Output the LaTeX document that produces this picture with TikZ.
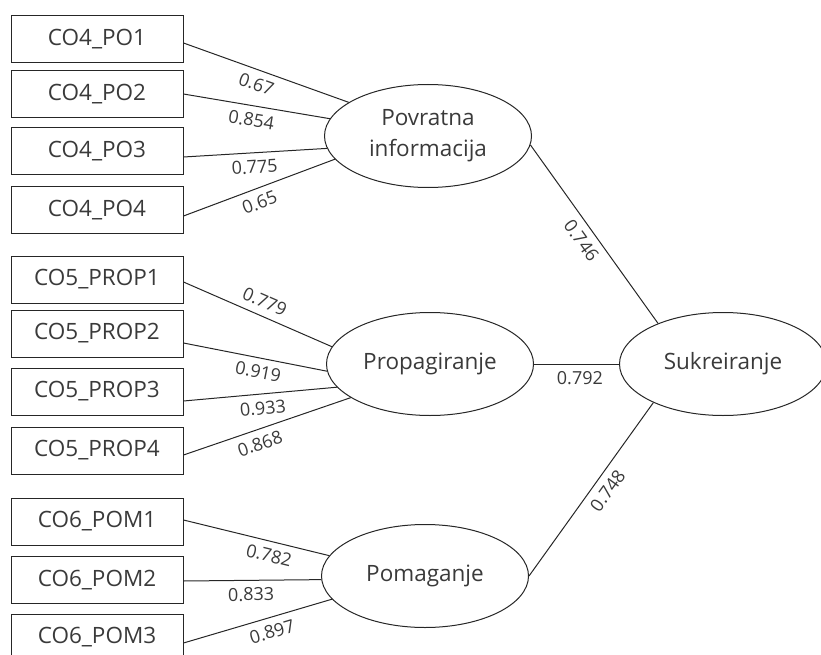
\documentclass[tikz,border=0pt]{standalone}
\usepackage{fontspec}
\setmainfont{Open Sans}
\usetikzlibrary{shapes.geometric,calc}
\definecolor{txt}{HTML}{3A3A3A}
\definecolor{ln}{HTML}{262626}
\begin{document}
\begin{tikzpicture}[x=1pt,y=-1pt,
  ind/.style={draw=ln, line width=1pt, minimum width=172pt, minimum height=47pt, inner sep=0pt, text=txt, font=\fontsize{22.5}{27}\selectfont},
  lat/.style={ellipse, draw=ln, line width=1pt, minimum width=207pt, minimum height=103pt, inner sep=0pt, text=txt, align=center, font=\fontsize{22.5}{31}\selectfont},
  conn/.style={draw=ln, line width=1pt},
  lbl/.style={sloped, text=txt, inner sep=7pt, font=\fontsize{18}{18}\selectfont}
]
\useasboundingbox (0,0) rectangle (821,655);

% indicators
\node[ind] (po1) at (97,39.5) {CO4\_PO1};
\node[ind] (po2) at (97,94.5) {CO4\_PO2};
\node[ind] (po3) at (97,151.5) {CO4\_PO3};
\node[ind] (po4) at (97,210) {CO4\_PO4};
\node[ind] (pr1) at (97,279.5) {CO5\_PROP1};
\node[ind] (pr2) at (97,333.5) {CO5\_PROP2};
\node[ind] (pr3) at (97,391.5) {CO5\_PROP3};
\node[ind] (pr4) at (97,450.5) {CO5\_PROP4};
\node[ind] (pm1) at (97,521.5) {CO6\_POM1};
\node[ind] (pm2) at (97,580) {CO6\_POM2};
\node[ind] (pm3) at (97,637.5) {CO6\_POM3};

% latent variables
\node[lat] (pov) at (428,136) {Povratna\\informacija};
\node[lat] (prop) at (430,364) {Propagiranje};
\node[lat] (pom) at (425,576) {Pomaganje};
\node[lat] (suk) at (723,364) {Sukreiranje};

% outer loadings
\draw[conn] ($(po1.east)+(0,3.5)$) -- (pov.157.6) node[lbl,pos=0.47,below]{0.67};
\draw[conn] ($(po2.east)+(0,-0.5)$) -- (pov.170.2) node[lbl,pos=0.48,below]{0.854};
\draw[conn] ($(po3.east)+(0,5.5)$) -- (pov.187.9) node[lbl,pos=0.49,below]{0.775};
\draw[conn] ($(po4.east)+(0,6)$) -- (pov.194.8) node[lbl,pos=0.47,below]{0.65};

\draw[conn] ($(pr1.east)+(0,2.5)$) -- (prop.170.4) node[lbl,pos=0.51,above]{0.779};
\draw[conn] ($(pr2.east)+(0,9.5)$) -- (prop.184.4) node[lbl,pos=0.54,below]{0.919};
\draw[conn] ($(pr3.east)+(0,9.5)$) -- (prop.194.2) node[lbl,pos=0.51,below]{0.933};
\draw[conn] ($(pr4.east)+(0,4.5)$) -- (prop.203.6) node[lbl,pos=0.43,below]{0.868};

\draw[conn] ($(pm1.east)+(0,-1.5)$) -- (pom.168.9) node[lbl,pos=0.61,below]{0.782};
\draw[conn] ($(pm2.east)+(0,1)$) -- (pom.182.8) node[lbl,pos=0.49,below]{0.833};
\draw[conn] ($(pm3.east)+(0,5.5)$) -- (pom.194.8) node[lbl,pos=0.57,below]{0.897};

% inner paths
\draw[conn] (pov.-5) -- (suk.148) node[lbl,pos=0.49,below]{0.746};
\draw[conn] (prop.east) -- (suk.west) node[lbl,pos=0.54,below]{0.792};
\draw[conn] (pom.east) -- (suk.209.9) node[lbl,pos=0.54,below]{0.748};
\end{tikzpicture}
\end{document}
